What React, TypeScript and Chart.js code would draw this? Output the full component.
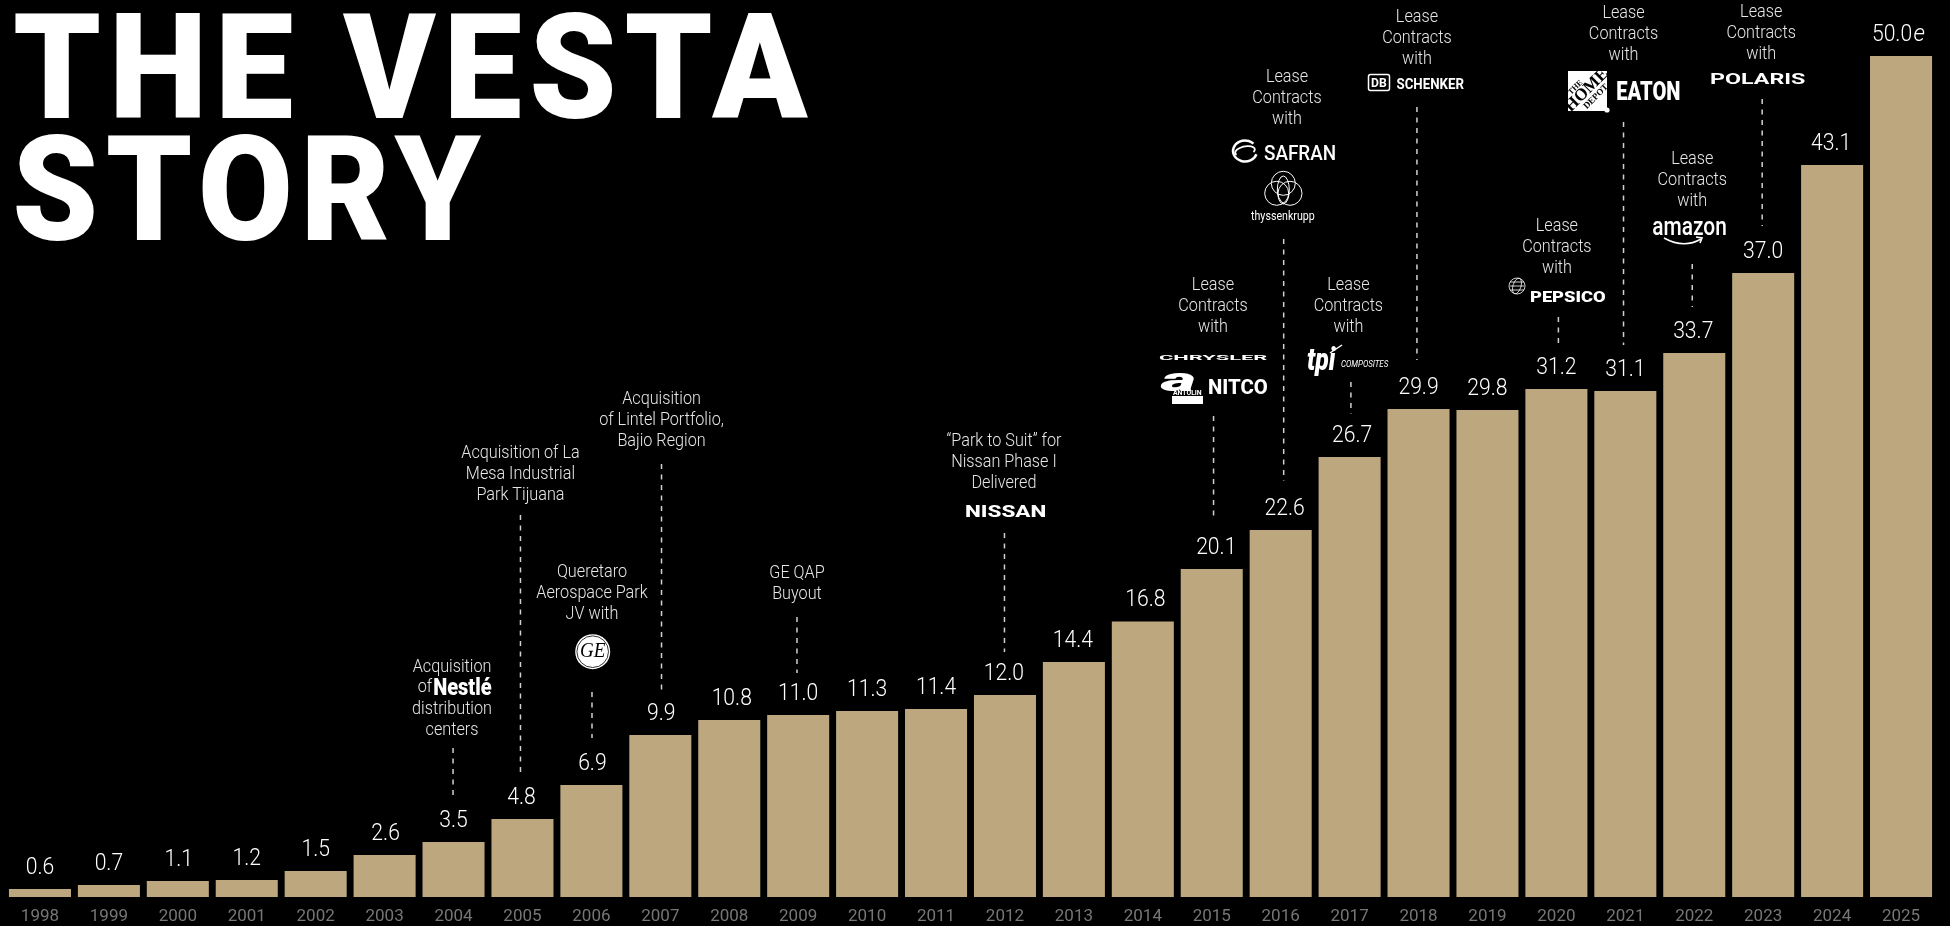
import React, { useEffect, useRef } from 'react';
import { Chart, registerables } from 'chart.js';

Chart.register(...registerables);

const years = ['1998','1999','2000','2001','2002','2003','2004','2005','2006','2007','2008','2009','2010','2011','2012','2013','2014','2015','2016','2017','2018','2019','2020','2021','2022','2023','2024','2025'];
// Height of each bar as measured in the picture
const barHeights = [0.48,0.71,0.95,1.01,1.55,2.5,3.27,4.64,6.66,9.63,10.52,10.82,11.06,11.18,12.01,13.97,16.38,19.5,21.82,26.16,29.01,28.95,30.2,30.08,32.34,37.1,43.52,50];
// Printed value over each bar
const valueLabels = ['0.6','0.7','1.1','1.2','1.5','2.6','3.5','4.8','6.9','9.9','10.8','11.0','11.3','11.4','12.0','14.4','16.8','20.1','22.6','26.7','29.9','29.8','31.2','31.1','33.7','37.0','43.1','50.0e'];
// Horizontal nudge of the printed value from its bar centre
const valueShift = [0,0,1,0,0,1,0,-1,1,1,2.5,0,0,0,-1,-1,2.5,4.5,4,2.5,0,0,0,0,-1,0,-1,0];

const noteYears = ['2004','2005','2006','2007','2009','2012','2015','2016','2017','2018','2020','2021','2022','2023'];
const lease = ['Lease','Contracts','with'];
const noteTexts = [
  ['Acquisition','','distribution','centers'],
  ['Acquisition of La','Mesa Industrial','Park Tijuana'],
  ['Queretaro','Aerospace Park','JV with'],
  ['Acquisition','of Lintel Portfolio,','Bajio Region'],
  ['GE QAP','Buyout'],
  ['\u201CPark to Suit\u201D for','Nissan Phase I','Delivered'],
  lease, lease, lease, lease, lease, lease, lease, lease,
];

// Layout of the notes: text offset from bar centre, first line y, leader offset, leader top y, gap above the bar
const noteLayout = [
  { dx: -1.5, y: 667, ldx: -0.5, top: 748, gap: 46 },
  { dx: -2, y: 453, ldx: -2, top: 515, gap: 44 },
  { dx: 0.6, y: 572, ldx: 0.6, top: 692, gap: 47 },
  { dx: 1.2, y: 399, ldx: 1.2, top: 464, gap: 43 },
  { dx: -1.2, y: 573, ldx: -1.2, top: 617, gap: 42 },
  { dx: -1, y: 441, ldx: -0.5, top: 533, gap: 43 },
  { dx: 1.2, y: 285, ldx: 1.8, top: 416, gap: 52 },
  { dx: 6.3, y: 77, ldx: 3, top: 239, gap: 49 },
  { dx: -1.2, y: 285, ldx: 1.3, top: 382, gap: 43 },
  { dx: -1.6, y: 17, ldx: -1.6, top: 107, gap: 49 },
  { dx: 0.5, y: 226, ldx: 2, top: 317, gap: 41 },
  { dx: -1.8, y: 13, ldx: -1.8, top: 122, gap: 46 },
  { dx: -2, y: 159, ldx: -2, top: 264, gap: 46 },
  { dx: -2, y: 12, ldx: -1, top: 99, gap: 47 },
];

const titleLines = ['THE VESTA', 'STORY'];

const FONT = 'Roboto, sans-serif';
const BAR = '#bca77f';
const NOTE = '#e6e6e6';

function fit(ctx: CanvasRenderingContext2D, text: string, x0: number, x1: number, cy: number, font: string, color = '#fff', spacing = '0px') {
  ctx.save();
  ctx.font = font;
  (ctx as any).letterSpacing = spacing;
  ctx.fillStyle = color;
  ctx.textAlign = 'left';
  ctx.textBaseline = 'alphabetic';
  const m = ctx.measureText(text);
  const w = m.actualBoundingBoxRight + m.actualBoundingBoxLeft;
  const h = m.actualBoundingBoxAscent - m.actualBoundingBoxDescent;
  ctx.translate(x0, cy + h / 2);
  ctx.scale((x1 - x0) / w, 1);
  ctx.fillText(text, m.actualBoundingBoxLeft, 0);
  ctx.restore();
}

function centred(ctx: CanvasRenderingContext2D, text: string, cx: number, cy: number, font: string, sx: number, color: string) {
  ctx.save();
  ctx.font = font;
  ctx.fillStyle = color;
  ctx.textAlign = 'center';
  ctx.textBaseline = 'middle';
  ctx.translate(cx, cy);
  ctx.scale(sx, 1);
  ctx.fillText(text, 0, 0);
  ctx.restore();
}

function drawLogos(ctx: CanvasRenderingContext2D) {
  const w = '#fff';
  // Nestle
  centred(ctx, 'of', 425, 687, `300 18px ${FONT}`, 0.9, NOTE);
  fit(ctx, 'Nestl\u00E9', 434, 492, 686, `900 23px ${FONT}`);
  // GE
  ctx.save();
  ctx.fillStyle = w;
  ctx.beginPath(); ctx.arc(592.7, 651.7, 17.5, 0, Math.PI * 2); ctx.fill();
  ctx.strokeStyle = '#000'; ctx.lineWidth = 0.8;
  ctx.beginPath(); ctx.arc(592.7, 651.7, 15.8, 0, Math.PI * 2); ctx.stroke();
  ctx.restore();
  centred(ctx, 'GE', 592.7, 652, `italic 400 20px "Liberation Serif", serif`, 0.95, '#000');
  // Nissan
  fit(ctx, 'NISSAN', 965, 1046, 511, `800 16px ${FONT}`);
  // Chrysler / Antolin / Nitco
  fit(ctx, 'CHRYSLER', 1159, 1267, 357, `700 8px ${FONT}`);
  fit(ctx, 'a', 1159, 1195, 382, `italic 900 34px ${FONT}`);
  ctx.fillStyle = w;
  ctx.fillRect(1172, 396, 31, 8);
  fit(ctx, 'ANTOLIN', 1173, 1202, 392, `700 8px ${FONT}`);
  fit(ctx, 'NITCO', 1209, 1268, 386, `800 20px ${FONT}`);
  // Safran
  ctx.save();
  ctx.strokeStyle = w;
  ctx.lineWidth = 2.4;
  ctx.beginPath(); ctx.ellipse(1245, 151, 12, 10.5, 0, Math.PI * 0.1, Math.PI * 1.75); ctx.stroke();
  ctx.lineWidth = 1.8;
  ctx.beginPath(); ctx.ellipse(1245, 151, 10, 4.5, -0.2, Math.PI * 0.85, Math.PI * 2.2); ctx.stroke();
  ctx.restore();
  fit(ctx, 'SAFRAN', 1264, 1335, 152, `500 20px ${FONT}`);
  // thyssenkrupp
  ctx.save();
  ctx.strokeStyle = w;
  ctx.lineWidth = 1;
  [[1283.3, 183.3], [1276.7, 193.3], [1290, 193.3]].forEach(([x, y]) => {
    ctx.beginPath(); ctx.arc(x, y, 12, 0, Math.PI * 2); ctx.stroke();
  });
  ctx.beginPath(); ctx.ellipse(1283.3, 190, 6, 14, 0, 0, Math.PI * 2); ctx.stroke();
  ctx.restore();
  fit(ctx, 'thyssenkrupp', 1251, 1315, 216, `400 12px ${FONT}`);
  // DB Schenker
  ctx.save();
  ctx.strokeStyle = w;
  ctx.lineWidth = 1.5;
  ctx.beginPath(); ctx.roundRect(1368.5, 74.5, 21, 16, 2); ctx.stroke();
  ctx.restore();
  fit(ctx, 'DB', 1371, 1387, 82.5, `700 12px ${FONT}`);
  fit(ctx, 'SCHENKER', 1396.5, 1464, 83, `700 14px ${FONT}`);
  // tpi
  fit(ctx, 'tpi', 1307, 1336, 361, `italic 900 31px ${FONT}`);
  ctx.save();
  ctx.strokeStyle = w; ctx.lineWidth = 1.5;
  ctx.beginPath(); ctx.moveTo(1330, 353); ctx.lineTo(1342, 345); ctx.stroke();
  ctx.restore();
  fit(ctx, 'COMPOSITES', 1341, 1389, 363, `italic 400 9px ${FONT}`);
  // PepsiCo
  ctx.save();
  ctx.strokeStyle = w; ctx.lineWidth = 0.8;
  ctx.beginPath(); ctx.arc(1517, 286, 8, 0, Math.PI * 2); ctx.stroke();
  ctx.beginPath(); ctx.ellipse(1517, 286, 4, 8, 0.3, 0, Math.PI * 2); ctx.stroke();
  [-4, 0, 4].forEach((d) => {
    ctx.beginPath(); ctx.moveTo(1510, 286 + d); ctx.lineTo(1524, 286 + d); ctx.stroke();
  });
  ctx.restore();
  fit(ctx, 'PEPSICO', 1530, 1606, 296, `900 14px ${FONT}`);
  // Home Depot
  ctx.save();
  ctx.fillStyle = w;
  ctx.fillRect(1568, 71, 39, 40);
  ctx.beginPath(); ctx.arc(1607, 110, 2.6, 0, Math.PI * 2); ctx.fill();
  ctx.translate(1587.5, 91);
  ctx.rotate(-Math.PI / 4);
  ctx.fillStyle = '#000';
  ctx.textAlign = 'center';
  ctx.textBaseline = 'middle';
  ctx.font = '700 8px "Liberation Serif", serif';
  ctx.fillText('THE', -6, -11);
  ctx.font = '700 17px "Liberation Serif", serif';
  ctx.fillText('HOME', 0, -1);
  ctx.font = '700 9px "Liberation Serif", serif';
  ctx.fillText('DEPOT', 2, 10);
  ctx.restore();
  // Eaton
  fit(ctx, 'EATON', 1617, 1680, 90, `900 25px ${FONT}`);
  // Polaris
  fit(ctx, 'POLARIS', 1710, 1806, 78, `700 14px ${FONT}`);
  // Amazon
  fit(ctx, 'amazon', 1653, 1726, 228, `500 25px ${FONT}`);
  ctx.save();
  ctx.strokeStyle = w; ctx.lineWidth = 1.6;
  ctx.beginPath(); ctx.moveTo(1664, 238); ctx.quadraticCurveTo(1684, 249, 1701, 239); ctx.stroke();
  ctx.beginPath(); ctx.moveTo(1696, 237); ctx.lineTo(1702, 238); ctx.lineTo(1700, 243); ctx.stroke();
  ctx.restore();
}

const storyPlugin = {
  id: 'story',
  afterDraw(chart: any) {
    const ctx: CanvasRenderingContext2D = chart.ctx;
    const meta = chart.getDatasetMeta(0);

    // Title
    fit(ctx, titleLines[0], 15, 808, 65, `900 146px ${FONT}`, '#fff', '8px');
    fit(ctx, titleLines[1], 16, 481, 187, `900 146px ${FONT}`, '#fff', '8px');

    // Value labels
    valueLabels.forEach((label, i) => {
      const bar = meta.data[i];
      const x = bar.x + valueShift[i];
      const est = label.endsWith('e');
      const font = `300 24px ${FONT}`;
      if (est) {
        ctx.save();
        ctx.font = font;
        const base = label.slice(0, -1);
        const bw = ctx.measureText(base).width * 0.88;
        ctx.restore();
        centred(ctx, base, x - 9, bar.y - 21, font, 0.88, '#fff');
        centred(ctx, 'e', x - 9 + bw / 2 + 7, bar.y - 21, `italic 300 24px ${FONT}`, 0.95, '#fff');
      } else {
        centred(ctx, label, x, bar.y - 21, font, 0.88, '#fff');
      }
    });

    // Notes and dashed leaders
    noteYears.forEach((year, n) => {
      const i = years.indexOf(year);
      const bar = meta.data[i];
      const l = noteLayout[n];
      noteTexts[n].forEach((line, k) => {
        if (line) centred(ctx, line, bar.x + l.dx, l.y + k * 21.3, `300 18px ${FONT}`, 0.9, NOTE);
      });
      ctx.save();
      ctx.strokeStyle = '#d0d0d0';
      ctx.lineWidth = 1.5;
      ctx.setLineDash([5, 5.5]);
      ctx.beginPath();
      ctx.moveTo(bar.x + l.ldx, l.top);
      ctx.lineTo(bar.x + l.ldx, bar.y - l.gap);
      ctx.stroke();
      ctx.restore();
    });

    drawLogos(ctx);
  },
};

export default function App() {
  const ref = useRef<HTMLCanvasElement>(null);
  useEffect(() => {
    document.body.style.margin = '0';
    document.body.style.background = '#000';
    const chart = new Chart(ref.current!, {
      type: 'bar',
      data: {
        labels: years,
        datasets: [{ data: barHeights, backgroundColor: BAR, borderWidth: 0, barPercentage: 0.9, categoryPercentage: 1 }],
      },
      plugins: [storyPlugin],
      options: {
        animation: false,
        responsive: false,
        devicePixelRatio: 1,
        layout: { padding: { left: 5.5, right: 14.5, top: 0, bottom: 0 } },
        plugins: { legend: { display: false }, tooltip: { enabled: false }, title: { display: false } },
        scales: {
          x: {
            grid: { display: false },
            border: { display: false },
            afterFit(scale: any) { scale.height = 29; },
            ticks: { color: '#767676', font: { family: 'Roboto', size: 17, weight: '400' }, padding: 2, maxRotation: 0, autoSkip: false },
          },
          y: { display: false, min: 0, max: 897 / 16.82 },
        },
      },
    } as any);
    return () => chart.destroy();
  }, []);
  return (
    <div style={{ position: 'absolute', left: 0, top: 0, width: 1950, height: 926, background: '#000', overflow: 'hidden' }}>
      <canvas ref={ref} width={1950} height={926} style={{ display: 'block' }} />
    </div>
  );
}
